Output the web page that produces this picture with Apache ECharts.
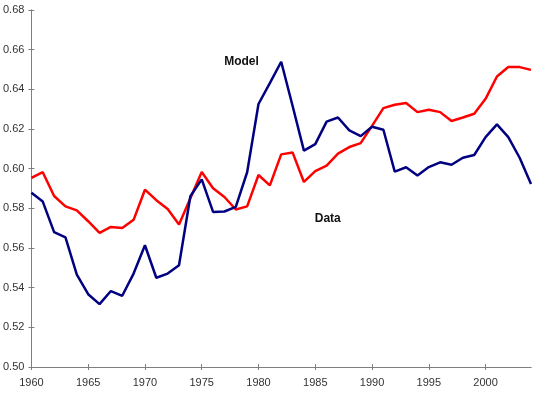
<!DOCTYPE html>
<html>
<head>
	<meta charset="utf-8">
	<title>Model vs Data</title>
	<script src="https://cdn.jsdelivr.net/npm/echarts@6/dist/echarts.min.js"></script>
	<style type="text/css">
		html, body { height: 100%; margin: 0; background: #fff; }
	</style>
</head>
<body>
	<div id="main" style="width: 535px;height:405px;"></div>
	<script type="text/javascript">
	// years 1960..2004
	var years = [];
	for (var y = 1960; y <= 2004; y++) years.push(y);
	var tickYears = [1960, 1965, 1970, 1975, 1980, 1985, 1990, 1995, 2000];

	var dataValues = [
		0.5878, 0.5834, 0.5680, 0.5653, 0.5466, 0.5367, 0.5317, 0.5383, 0.5359, 0.5471,
		0.5614, 0.5450, 0.5471, 0.5513, 0.5861, 0.5946, 0.5782, 0.5784, 0.5807, 0.5982,
		0.6326, 0.6431, 0.6539, 0.6317, 0.6091, 0.6124, 0.6237, 0.6258, 0.6193, 0.6164,
		0.6211, 0.6196, 0.5985, 0.6007, 0.5966, 0.6008, 0.6032, 0.6020, 0.6055, 0.6069,
		0.6159, 0.6223, 0.6159, 0.6055, 0.5923
	];
	var modelValues = [
		0.5953, 0.5982, 0.5862, 0.5810, 0.5790, 0.5735, 0.5676, 0.5706, 0.5701, 0.5742,
		0.5894, 0.5841, 0.5797, 0.5718, 0.5851, 0.5983, 0.5901, 0.5857, 0.5794, 0.5810,
		0.5968, 0.5916, 0.6072, 0.6082, 0.5933, 0.5988, 0.6015, 0.6076, 0.6109, 0.6129,
		0.6216, 0.6305, 0.6322, 0.6331, 0.6285, 0.6297, 0.6285, 0.6240, 0.6258, 0.6277,
		0.6352, 0.6465, 0.6513, 0.6512, 0.6498
	];
	// where the two series names sit (data coords)
	var modelLabelAt = [1978.5, 0.6538];
	var dataLabelAt = [1986.1, 0.5750];

	function pairs(vals) {
		var out = [];
		for (var i = 0; i < years.length; i++) out.push([years[i], vals[i]]);
		return out;
	}

	var axisGray = '#7f7f7f';
	var font = 'Liberation Sans, Arial, sans-serif';

	var xBase = {
		type: 'value', min: 1960, max: 2004, interval: 5,
		axisLine: { lineStyle: { color: axisGray, width: 1 } },
		splitLine: { show: false }
	};
	var yBase = {
		type: 'value', min: 0.50, max: 0.68, interval: 0.02,
		axisLine: { show: true, lineStyle: { color: axisGray, width: 1 } },
		splitLine: { show: false }
	};

	var myChart = echarts.init(document.getElementById('main'));
	var option = {
		animation: false,
		grid: { left: 31, right: 4, top: 10, bottom: 38 },
		xAxis: [
			Object.assign({}, xBase, {
				axisTick: { length: 3, customValues: tickYears, lineStyle: { color: axisGray } },
				axisLabel: {
					color: '#333', fontSize: 11, fontFamily: font, margin: 10,
					customValues: tickYears,
					formatter: function (v) { return String(v); }
				}
			}),
			Object.assign({}, xBase, {
				position: 'bottom',
				axisTick: { inside: true, length: 3, customValues: tickYears, lineStyle: { color: axisGray } },
				axisLabel: { show: false }
			})
		],
		yAxis: [
			Object.assign({}, yBase, {
				axisTick: { length: 3, lineStyle: { color: axisGray } },
				axisLabel: {
					color: '#333', fontSize: 11, fontFamily: font, margin: 7,
					formatter: function (v) { return v.toFixed(2); }
				}
			}),
			Object.assign({}, yBase, {
				position: 'left',
				axisTick: { inside: true, length: 3, lineStyle: { color: axisGray } },
				axisLabel: { show: false }
			})
		],
		series: [
			{
				name: 'Model', type: 'line', data: pairs(modelValues),
				showSymbol: false, symbol: 'none',
				lineStyle: { color: '#ff0000', width: 2.5 },
				markPoint: {
					symbol: 'circle', symbolSize: 0,
					label: { show: true, formatter: 'Model', color: '#111', fontSize: 12, fontWeight: 'bold', fontFamily: font },
					data: [{ coord: modelLabelAt }]
				}
			},
			{
				name: 'Data', type: 'line', data: pairs(dataValues),
				showSymbol: false, symbol: 'none',
				lineStyle: { color: '#000080', width: 2.5 },
				markPoint: {
					symbol: 'circle', symbolSize: 0,
					label: { show: true, formatter: 'Data', color: '#111', fontSize: 12, fontWeight: 'bold', fontFamily: font },
					data: [{ coord: dataLabelAt }]
				}
			}
		]
	};
	myChart.setOption(option);
	</script>
</body>
</html>
